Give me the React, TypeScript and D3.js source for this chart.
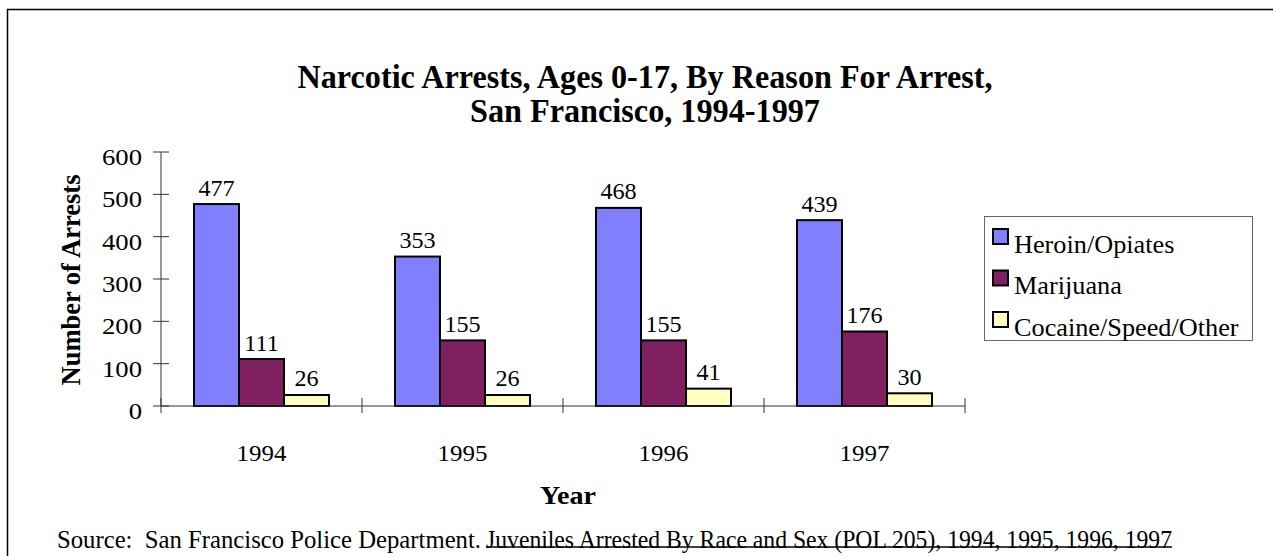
import React from "react";
import * as d3 from "d3";

const years = ["1994", "1995", "1996", "1997"];
const seriesNames = ["Heroin/Opiates", "Marijuana", "Cocaine/Speed/Other"];
const heroin = [477, 353, 468, 439];
const marijuana = [111, 155, 155, 176];
const cocaine = [26, 26, 41, 30];
const seriesColors = ["#8080FF", "#802060", "#FFFFC0"];
const yTicks = [0, 100, 200, 300, 400, 500, 600];

const FONT = '"Liberation Serif", "Times New Roman", Times, serif';

// Text drawn with a horizontal stretch factor, anchored at (x, y)
function SText(props: {
  x: number;
  y: number;
  sx?: number;
  size: number;
  anchor?: "start" | "middle" | "end";
  bold?: boolean;
  children: React.ReactNode;
}) {
  const { x, y, sx = 1, size, anchor = "start", bold = false, children } = props;
  return (
    <text
      transform={`translate(${x},${y}) scale(${sx},1)`}
      textAnchor={anchor}
      fontSize={size}
      fontWeight={bold ? "bold" : "normal"}
      style={{ fontFamily: FONT }}
    >
      {children}
    </text>
  );
}

export default function App() {
  const W = 1273;
  const H = 556;
  const values = [heroin, marijuana, cocaine];

  const x = d3.scaleBand<string>().domain(years).range([161, 965]).paddingInner(0).paddingOuter(0);
  const xInner = d3
    .scaleBand<string>()
    .domain(seriesNames)
    .range([0, x.bandwidth()])
    .paddingInner(0)
    .paddingOuter(0.733);
  const y = d3.scaleLinear().domain([0, 600]).range([406, 152]);

  const boundaries = [...years.map((yr) => x(yr) as number), 965];

  return (
    <svg
      width={W}
      height={H}
      style={{ position: "absolute", left: 0, top: 0, background: "#fff", fontFamily: FONT }}
    >
      <rect x={0} y={0} width={W} height={H} fill="#fff" />
      {/* chart frame (left and top edges visible) */}
      <path d={`M7.5,${H + 2} V9.5 H${W + 2}`} fill="none" stroke="#000" strokeWidth={1.5} />

      {/* title */}
      <text x={645} y={88} textAnchor="middle" fontWeight="bold" fontSize={33} textLength={695} lengthAdjust="spacingAndGlyphs" style={{ fontFamily: FONT }}>
        Narcotic Arrests, Ages 0-17, By Reason For Arrest,
      </text>
      <text x={645} y={122} textAnchor="middle" fontWeight="bold" fontSize={33} textLength={350} lengthAdjust="spacingAndGlyphs" style={{ fontFamily: FONT }}>
        San Francisco, 1994-1997
      </text>

      {/* bars */}
      {values.map((vals, si) =>
        vals.map((v, i) => {
          const bx = (x(years[i]) as number) + (xInner(seriesNames[si]) as number);
          const bw = xInner.bandwidth();
          return (
            <g key={`${si}-${i}`}>
              <rect
                x={bx}
                y={y(v)}
                width={bw}
                height={y(0) - y(v)}
                fill={seriesColors[si]}
                stroke="#000"
                strokeWidth={2}
              />
              <SText x={bx + bw / 2} y={y(v) - 8.5} size={23} sx={1.05} anchor="middle">
                {v}
              </SText>
            </g>
          );
        })
      )}

      {/* y axis */}
      <line x1={161} y1={y(0)} x2={161} y2={y(600)} stroke="#333" strokeWidth={1} />
      {yTicks.map((t) => (
        <g key={t}>
          <line x1={153} x2={169} y1={y(t)} y2={y(t)} stroke="#333" strokeWidth={1} />
          <SText x={142} y={y(t) + 13} size={23} sx={1.16} anchor="end">
            {t}
          </SText>
        </g>
      ))}

      {/* x axis */}
      <line x1={161} y1={y(0)} x2={965} y2={y(0)} stroke="#333" strokeWidth={1} />
      {boundaries.map((bx, i) => (
        <line key={i} x1={bx} x2={bx} y1={398} y2={413} stroke="#333" strokeWidth={1} />
      ))}
      {years.map((yr) => (
        <SText key={yr} x={(x(yr) as number) + x.bandwidth() / 2} y={460.5} size={24} sx={1.04} anchor="middle">
          {yr}
        </SText>
      ))}

      {/* axis titles */}
      <SText x={568} y={504} size={26} sx={1.08} anchor="middle" bold>
        Year
      </SText>
      <text
        transform={`translate(80,280) rotate(-90)`}
        textAnchor="middle"
        fontWeight="bold"
        fontSize={26.5}
        style={{ fontFamily: FONT }}
      >
        Number of Arrests
      </text>

      {/* legend */}
      <rect x={984.5} y={216.5} width={268} height={124} fill="#fff" stroke="#666" strokeWidth={1} />
      {seriesNames.map((name, i) => (
        <g key={name}>
          <rect
            x={993}
            y={229 + i * 41.5}
            width={15}
            height={15}
            fill={seriesColors[i]}
            stroke="#000"
            strokeWidth={2}
          />
          <SText x={1014} y={252.5 + i * 41.5} size={25.5} sx={1.03}>
            {name}
          </SText>
        </g>
      ))}

      {/* source note */}
      <text x={57} y={548} fontSize={26} textLength={424} lengthAdjust="spacingAndGlyphs" style={{ whiteSpace: "pre", fontFamily: FONT }}>
        {"Source:  San Francisco Police Department."}
      </text>
      <text x={486} y={548} fontSize={26} textLength={686} lengthAdjust="spacingAndGlyphs" style={{ fontFamily: FONT }}>
        Juveniles Arrested By Race and Sex (POL 205), 1994, 1995, 1996, 1997
      </text>
      <line x1={486} x2={1172} y1={547} y2={547} stroke="#000" strokeWidth={1.5} />
    </svg>
  );
}
